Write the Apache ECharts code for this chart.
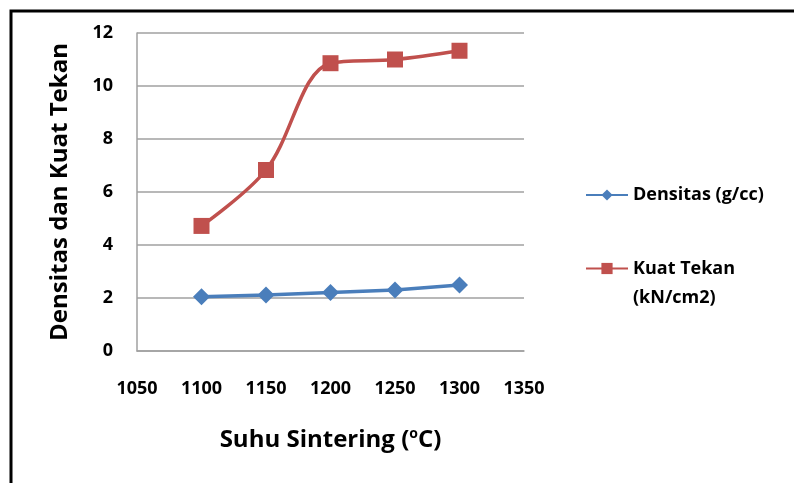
<!DOCTYPE html>
<html>
<head>
<meta charset="utf-8">
<script src="https://cdn.jsdelivr.net/npm/echarts@6/dist/echarts.min.js"></script>
<style>
  html, body { margin: 0; padding: 0; background: #fff; }
  #chart { width: 794px; height: 483px; }
</style>
</head>
<body>
<div id="chart"></div>
<script>
// data
const suhu = [1100, 1150, 1200, 1250, 1300];
const densitas = [2.05, 2.11, 2.21, 2.30, 2.49];
const kuatTekan = [4.72, 6.83, 10.86, 11.0, 11.33];

const fontFamily = '"Open Sans", sans-serif';

let chart = echarts.init(document.getElementById('chart'));

function pairs(xs, ys) {
    return xs.map(function (x, i) { return [x, ys[i]]; });
}

const option = {
    animation: false,
    textStyle: { fontFamily: fontFamily },
    grid: { left: 137, right: 270, top: 33, bottom: 132 },
    // outer black frame
    graphic: [{
        type: 'rect',
        shape: { x: 11, y: 11, width: 820, height: 520 },
        style: { fill: 'none', stroke: '#000', lineWidth: 3 },
        silent: true
    }],
    legend: [{
        data: ['Densitas (g/cc)'],
        left: 580, top: 179,
        itemWidth: 42, itemHeight: 14, itemGap: 4,
        textStyle: { fontSize: 18, fontWeight: 'bold', color: '#000', lineHeight: 22, fontFamily: fontFamily }
    }, {
        data: ['Kuat Tekan (kN/cm2)'],
        left: 580, top: 220,
        itemWidth: 42, itemHeight: 14,
        // blank first line keeps the icon level with "Kuat Tekan"
        formatter: function (name) { return '\n' + name.replace(' (', '\n('); },
        textStyle: { fontSize: 18, fontWeight: 'bold', color: '#000', lineHeight: 29, fontFamily: fontFamily }
    }],
    xAxis: {
        type: 'value',
        min: 1050, max: 1350, interval: 50,
        name: '{t|Suhu Sintering (}{sup|o}{t|C)}',
        nameLocation: 'middle', nameGap: 74,
        nameTextStyle: {
            fontSize: 24, fontWeight: 'bold', color: '#000', fontFamily: fontFamily,
            rich: {
                t: { fontSize: 24, fontWeight: 'bold', color: '#000', lineHeight: 30, verticalAlign: 'middle', fontFamily: fontFamily },
                sup: { fontSize: 14, fontWeight: 'bold', color: '#000', lineHeight: 14, verticalAlign: 'top', padding: [2, 0, 0, 0], fontFamily: fontFamily }
            }
        },
        axisLine: { show: true, lineStyle: { color: '#a0a0a0', width: 1.5 } },
        axisTick: { show: false },
        splitLine: { show: false },
        axisLabel: {
            margin: 29, fontSize: 18, fontWeight: 'bold', color: '#000',
            formatter: function (v) { return String(v); }
        }
    },
    yAxis: {
        type: 'value',
        min: 0, max: 12, interval: 2,
        name: 'Densitas dan Kuat Tekan',
        nameLocation: 'middle', nameGap: 65,
        nameTextStyle: { fontSize: 24, fontWeight: 'bold', color: '#000', fontFamily: fontFamily },
        axisLine: { show: true, lineStyle: { color: '#a0a0a0', width: 1.5 } },
        axisTick: { show: false },
        splitLine: { lineStyle: { color: '#a0a0a0', width: 1.5 } },
        axisLabel: { margin: 24, fontSize: 18, fontWeight: 'bold', color: '#000' }
    },
    series: [{
        name: 'Densitas (g/cc)',
        type: 'line',
        data: pairs(suhu, densitas),
        symbol: 'diamond', symbolSize: [17, 17],
        lineStyle: { color: '#4a7ebb', width: 3.5 },
        itemStyle: { color: '#4a7ebb' }
    }, {
        name: 'Kuat Tekan (kN/cm2)',
        type: 'line',
        smooth: 0.35,
        data: pairs(suhu, kuatTekan),
        symbol: 'rect', symbolSize: 16,
        lineStyle: { color: '#c0504d', width: 3.5 },
        itemStyle: { color: '#c0504d' }
    }]
};

chart.setOption(option);
</script>
</body>
</html>
